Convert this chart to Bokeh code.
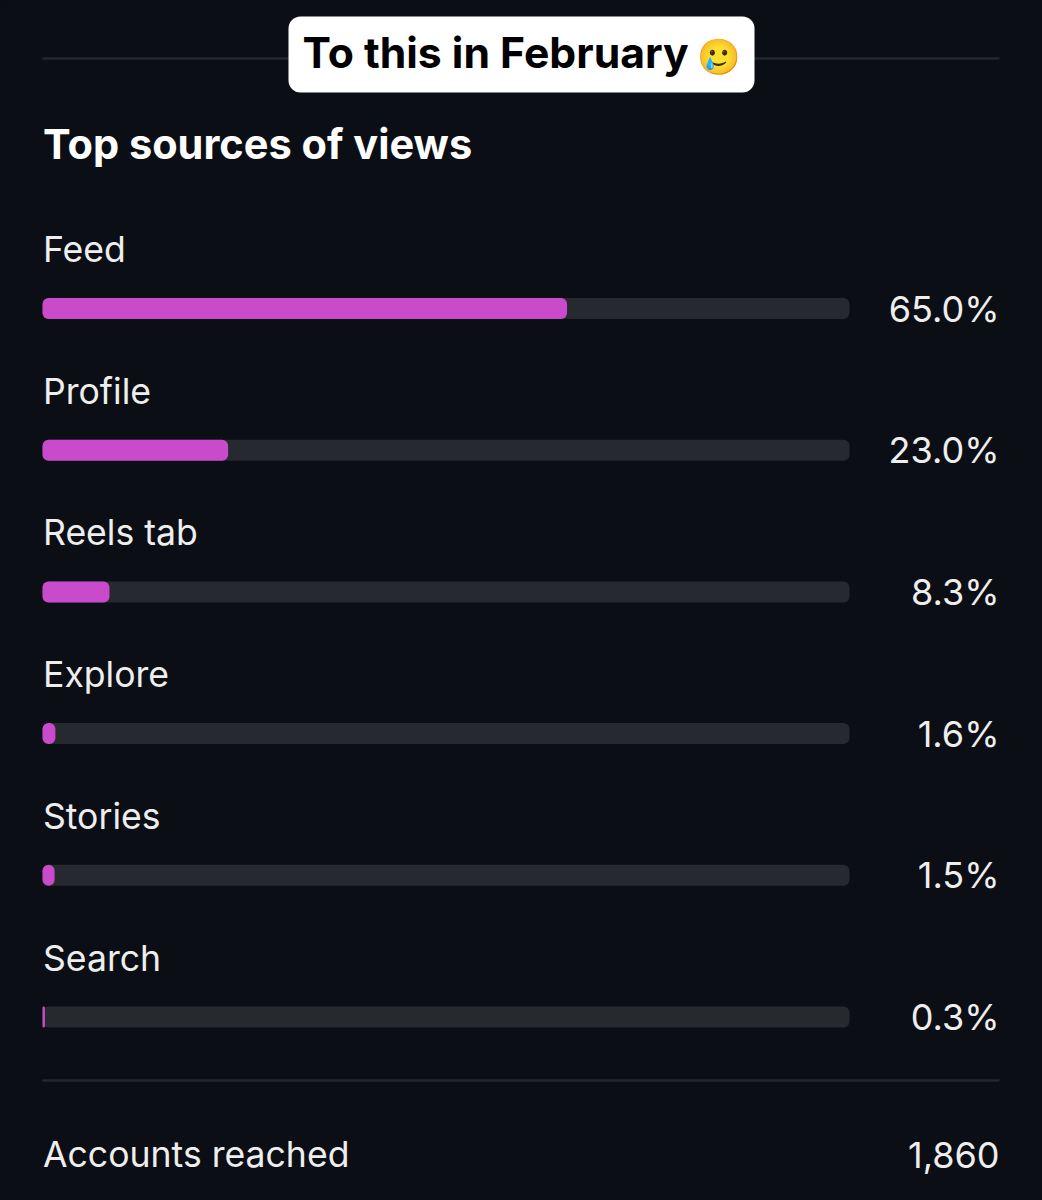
from bokeh.plotting import figure
from bokeh.models import Range1d
from bokeh.core.properties import value
from bokeh.embed import file_html
from bokeh.resources import INLINE

categories = ["Feed", "Profile", "Reels tab", "Explore", "Stories", "Search"]
shares = [65.0, 23.0, 8.3, 1.6, 1.5, 0.3]
share_labels = ["65.0%", "23.0%", "8.3%", "1.6%", "1.5%", "0.3%"]
title = "Top sources of views"
banner = "To this in February"
banner_emoji = "🥲"
footer_label = "Accounts reached"
footer_value = "1,860"

BG = "#0b0e14"
W, H = 1042, 1200
PX_PER_PCT = 8.07
X0 = 42.0
FONT = value("Inter")
DY = 14  # renderer's offset of the text baseline

p = figure(width=W, height=H, output_backend="svg", toolbar_location=None,
           x_range=Range1d(0, W), y_range=Range1d(H, 0),
           x_axis_location=None, y_axis_location=None, min_border=0,
           background_fill_color=BG, border_fill_color=BG, outline_line_color=None)
p.grid.visible = False
p.extra_x_ranges["pct"] = Range1d(-X0 / PX_PER_PCT, (W - X0) / PX_PER_PCT)

rows = list(range(len(categories)))
bar_y = [308 + 141.7 * i for i in rows]
lab_y = [263 - DY + 141.7 * i for i in rows]
val_y = [322 - DY + 141.7 * i for i in rows]

# rules
p.segment([42, 42], [58, 1080], [999, 999], [58, 1080], line_color="#24272d", line_width=2.5)

# banner
p.quad(left=[288], right=[754], top=[16], bottom=[92], fill_color="#ffffff", line_color=None, border_radius=12)
p.text([302], [66 - DY], text=[banner], text_font=FONT, text_font_style="bold", text_font_size="42.7px",
       text_color="#000000", text_align="left", text_baseline="alphabetic")
p.text([718], [69 - DY], text=[banner_emoji], text_font=FONT, text_font_size="35px",
       text_color="#000000", text_align="center", text_baseline="alphabetic")

# title
p.text([42.5], [157 - DY], text=[title], text_font=FONT, text_font_style="bold", text_font_size="41.5px",
       text_color="#ffffff", text_align="left", text_baseline="alphabetic")

# bars
p.hbar(y=bar_y, left=0, right=[100] * len(rows), height=21, x_range_name="pct",
       fill_color="#26292e", line_color=None, border_radius=6)
p.hbar(y=bar_y, left=0, right=shares, height=21, x_range_name="pct",
       fill_color="#c94acb", line_color=None, border_radius=6)

# labels
p.text([42.5] * len(rows), lab_y, text=categories, text_font=FONT, text_font_size="35.6px",
       text_color="#eeeeee", text_align="left", text_baseline="alphabetic")
p.text([999] * len(rows), val_y, text=share_labels, text_font=FONT, text_font_size="36px",
       text_color="#eeeeee", text_align="right", text_baseline="alphabetic")

# footer
p.text([42.5], [1168 - DY], text=[footer_label], text_font=FONT, text_font_size="35.6px",
       text_color="#eeeeee", text_align="left", text_baseline="alphabetic")
p.text([999], [1168 - DY], text=[footer_value], text_font=FONT, text_font_size="36px",
       text_color="#eeeeee", text_align="right", text_baseline="alphabetic")

html = file_html(p, INLINE)
html = html.replace("<head>", "<head><style>html,body{background:%s}</style>" % BG, 1)
open("out.html", "w").write(html)
